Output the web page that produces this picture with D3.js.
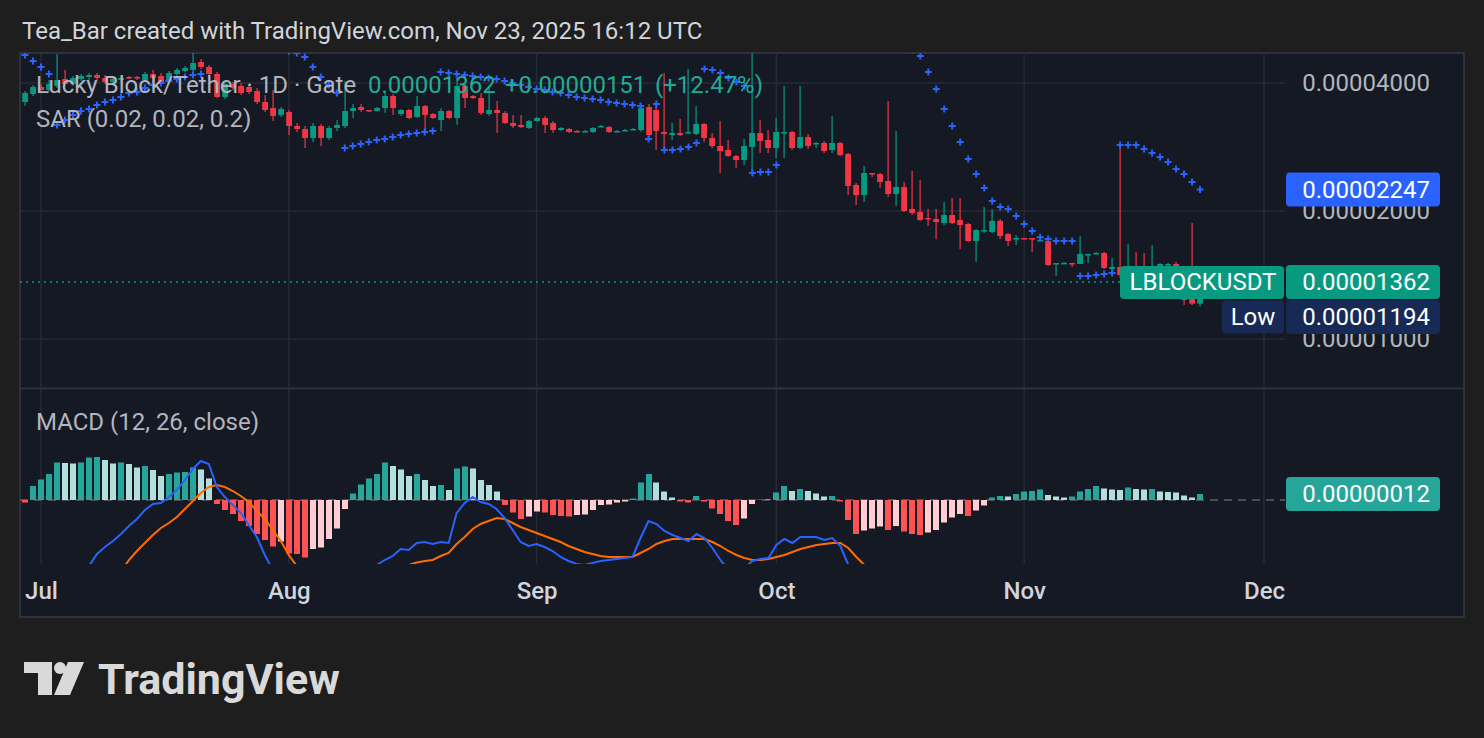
<!DOCTYPE html>
<html>
<head>
<meta charset="utf-8">
<script src="https://cdn.jsdelivr.net/npm/d3@7"></script>
<style>
  body { margin: 0; background: #1e1e1e; }
  svg { display: block; font-family: Roboto, "Noto Sans", sans-serif; }
</style>
</head>
<body>
<script>
// prices are in units of 1e-8 USDT
const firstDay = new Date(Date.UTC(2025, 5, 29))

const opens = [3609,3768,3915,3851,3936,4088,3979,4088,4132,4177,
  4110,4022,4066,4132,4132,4066,4200,4155,4066,4200,
  4269,4292,4482,4362,4200,3708,3979,3936,3915,3830,
  3609,3493,3364,3419,3169,3118,2970,3169,2970,3135,
  3169,3437,3512,3456,3437,3493,3728,3382,3456,3327,
  3531,3382,3274,3437,3309,3936,3728,3688,3382,3456,
  3400,3221,3187,3135,3256,3309,3221,3101,3118,3084,
  3068,3068,3152,3152,3068,3084,3101,3101,3512,3456,
  3068,3018,3051,3051,3035,3204,2970,2844,2783,2694,
  2636,2829,3051,2938,2813,3051,3068,2813,2986,2875,
  2891,2783,2891,2723,2303,2181,2457,2443,2353,2193,
  2278,2022,1989,1926,1915,1874,1957,1905,1864,1700,
  1794,1785,1895,1765,1718,1728,1728,1700,1700,1501,
  1507,1509,1501,1576,1584,1593,1461,1477,1414,1485,
  1437,1407,1485,1493,1501,1340,1249,1211]

const highs = [3830,3957,3979,4066,4680,4292,4155,4200,4223,4223,
  4177,4132,4155,4155,4155,4246,4292,4223,4269,4339,
  4386,5050,4555,4410,4246,4022,4022,4000,3957,3894,
  3748,3851,3512,3456,3221,3169,3221,3204,3169,3274,
  4044,3570,3570,3456,3512,3789,3768,3474,3474,3728,
  3551,3400,3493,3456,4110,4000,3748,3789,3936,3628,
  3437,3364,3364,3274,3327,3346,3256,3152,3135,3101,
  3101,3152,3187,3169,3101,3118,3135,3531,3570,3628,
  4223,3221,3292,4315,3531,3221,3051,3256,2938,2709,
  2954,5330,3274,3101,3309,3936,3084,3936,3035,2906,
  2922,3346,2906,2738,2328,2552,2457,2457,3628,3084,
  2341,2484,2366,2022,2022,2100,2146,2146,1874,1814,
  2044,2022,1915,1775,1756,1728,1728,1718,1709,1509,
  1518,1509,1746,1584,1602,1602,1550,2860,1672,1602,
  1593,1663,1509,1509,1518,1362,1874,1377]

const lows = [3531,3728,3810,3810,3894,3936,3936,4044,4066,4066,
  3979,3979,4022,4088,4066,4022,3915,3979,4044,4177,
  4246,4223,4315,4155,3688,3668,3851,3748,3768,3570,
  3419,3256,3327,3018,3068,2813,2906,2844,2938,3084,
  3135,3309,3419,3419,3437,3400,3364,3346,3292,3309,
  3084,3292,3084,3292,3187,3493,3668,3364,3346,3051,
  3204,3135,3135,3118,3239,3051,3051,3084,3051,3068,
  3068,3051,3152,3051,3068,3084,3101,3068,2986,2783,
  2783,2938,3002,3035,3018,2906,2813,2457,2680,2524,
  2566,2457,2738,2738,2665,2665,2783,2798,2798,2813,
  2738,2738,2694,2181,2066,2100,2404,2266,2158,2055,
  1989,1957,1895,1844,1718,1854,1864,1628,1691,1518,
  1775,1775,1718,1654,1663,1718,1602,1700,1485,1407,
  1501,1477,1501,1509,1584,1461,1453,1392,1392,1407,
  1377,1377,1469,1453,1304,1202,1202,1194]

const closes = [3789,3915,3851,3979,4066,3979,4110,4155,4177,4110,
  4022,4088,4110,4110,4110,4200,4110,4022,4223,4292,
  4339,4458,4362,4200,3708,3979,3894,3789,3810,3609,
  3456,3346,3474,3169,3118,2970,3169,2970,3135,3187,
  3437,3493,3456,3437,3493,3728,3493,3456,3309,3531,
  3364,3309,3437,3309,3936,3688,3688,3400,3456,3400,
  3221,3169,3152,3256,3309,3187,3101,3135,3068,3068,
  3084,3135,3169,3068,3084,3101,3118,3493,3018,3084,
  3035,3051,3018,3068,3204,2970,2844,2768,2694,2636,
  2844,3051,2922,2813,3068,3068,2813,2986,2844,2891,
  2768,2891,2709,2290,2181,2457,2443,2341,2193,2278,
  2000,1979,1905,1915,1884,1957,1874,1854,1700,1804,
  1804,1895,1746,1700,1728,1718,1718,1709,1493,1509,
  1510,1501,1584,1584,1593,1469,1477,1414,1485,1437,
  1407,1469,1501,1501,1340,1235,1211,1362]

// parabolic SAR (0.02, 0.02, 0.2)
const sar = [4655,4506,4362,4200,3186,3274,3364,3438,3475,3551,
  3609,3648,3708,3789,3810,3893,3957,4000,4044,4088,
  4132,4177,4200,5050,5023,4996,4969,4942,4916,4889,
  4863,4837,4811,4760,4706,4605,4362,4132,3957,3789,
  2814,2845,2876,2907,2938,2954,2987,3019,3035,3052,
  3068,3085,4245,4223,4200,4177,4155,4132,4110,4088,
  4044,4000,3957,3914,3872,3851,3810,3789,3748,3708,
  3688,3668,3648,3609,3590,3570,3551,3532,2954,3570,
  2783,2783,2799,2829,2891,4315,4292,4223,4110,4022,
  3936,2457,2470,2470,2566,5330,5301,5273,5244,5216,
  5188,5160,5132,5104,5077,5050,5023,4996,4969,4916,
  4863,4782,4630,4245,3872,3475,3169,2907,2650,2444,
  2266,2111,2044,2022,1947,1864,1794,1736,1718,1700,
  1700,1700,1407,1407,1415,1422,1430,2860,2860,2860,
  2799,2738,2680,2608,2511,2444,2341,2247]

// MACD (12, 26, close), units of 1e-8
const macdLine = [-212,-210,-205,-198,-190,-178,-165,-150,-132,-108,
  -94,-82,-68,-52,-38,-20,-8,-6,6,20,
  40,62,78,72,26,6,-10,-26,-50,-74,
  -110,-140,-155,-175,-190,-205,-210,-210,-205,-195,
  -175,-160,-145,-135,-130,-120,-112,-98,-100,-86,
  -84,-88,-84,-86,-26,-6,6,-4,-8,-18,
  -36,-60,-84,-92,-88,-94,-102,-114,-122,-128,
  -130,-126,-122,-120,-118,-116,-114,-76,-42,-48,
  -62,-70,-76,-82,-68,-76,-96,-120,-140,-150,
  -136,-122,-118,-116,-90,-78,-86,-74,-74,-74,
  -80,-76,-92,-130,-165,-180,-195,-205,-215,-225,
  -235,-245,-255,-260,-265,-265,-262,-258,-258,-252,
  -245,-238,-230,-225,-218,-210,-203,-196,-196,-196,
  -194,-190,-178,-170,-162,-160,-158,-155,-148,-145,
  -142,-138,-138,-137,-138,-140,-143,-136]

const signalLine = [-207,-236,-245,-250,-262,-252,-238,-225,-217,-194,
  -174,-155,-143,-120,-102,-86,-70,-56,-46,-34,
  -18,-2,14,26,30,26,18,8,-4,-22,
  -38,-60,-82,-110,-132,-150,-160,-170,-176,-178,
  -176,-172,-168,-165,-162,-152,-144,-136,-130,-125,
  -122,-120,-112,-106,-88,-74,-58,-48,-42,-36,
  -38,-46,-54,-60,-66,-72,-78,-84,-92,-98,
  -104,-108,-112,-114,-114,-114,-114,-106,-98,-88,
  -82,-78,-78,-78,-78,-78,-84,-92,-102,-110,
  -116,-120,-120,-118,-114,-110,-104,-98,-94,-90,
  -88,-86,-86,-96,-114,-130,-140,-152,-155,-173,
  -172,-177,-185,-195,-205,-220,-227,-230,-226,-231,
  -234,-243,-238,-232,-230,-227,-221,-217,-206,-203,
  -199,-197,-195,-192,-190,-183,-179,-175,-173,-167,
  -163,-160,-155,-153,-153,-149,-148,-148]

const histogram = [-5,28,41,52,75,74,73,75,85,86,
  80,73,75,72,65,68,60,48,52,55,
  56,65,61,43,-8,-20,-28,-42,-52,-68,
  -80,-93,-83,-107,-108,-115,-98,-95,-78,-57,
  -18,13,31,43,52,75,68,61,48,52,
  40,28,30,20,63,67,63,40,30,17,
  -10,-25,-38,-33,-23,-25,-30,-32,-33,-30,
  -29,-20,-10,-9,-5,-3,3,35,52,35,
  17,5,-3,-5,8,-3,-17,-28,-42,-50,
  -37,-8,1,1,15,28,18,22,18,13,
  7,8,-3,-40,-68,-61,-57,-53,-60,-52,
  -63,-68,-70,-65,-60,-45,-35,-28,-32,-21,
  -11,5,8,7,12,17,18,21,10,7,
  5,7,17,22,28,23,21,20,25,22,
  21,22,17,16,15,9,5,12]

const priceTicks = [1000, 2000, 4000]
const monthTicks = [new Date(Date.UTC(2025, 6, 1)), new Date(Date.UTC(2025, 7, 1)),
  new Date(Date.UTC(2025, 8, 1)), new Date(Date.UTC(2025, 9, 1)),
  new Date(Date.UTC(2025, 10, 1)), new Date(Date.UTC(2025, 11, 1))]

const svgWidth = 1484
const svgHeight = 738

const frame = { left: 20, right: 1464, top: 53, bottom: 617 }
const plotRight = 1285
const mainPane = { top: 53, bottom: 388 }
const macdPane = { top: 389, bottom: 564 }

const green = "#089981"
const red = "#f23645"
const fmt = v => (v * 1e-8).toFixed(8)

const days = closes.map((c, i) => d3.utcDay.offset(firstDay, i))
const candles = closes.map((c, i) => ({ date: days[i], open: opens[i], high: highs[i], low: lows[i], close: c }))

const x = d3.scaleUtc()
  .domain([monthTicks[0], monthTicks[5]])
  .range([41, 1264])

const y = d3.scaleLog()
  .domain([1000, 4000])
  .range([339, 83])

const yMacd = d3.scaleLinear()
  .domain([-125, 220])
  .range([562.5, 390])

const svg = d3.select("body").append("svg")
  .attr("width", svgWidth)
  .attr("height", svgHeight)

svg.append("rect")
  .attr("width", svgWidth)
  .attr("height", svgHeight)
  .attr("fill", "#1e1e1e")

svg.append("text")
  .attr("x", 22)
  .attr("y", 31)
  .attr("dy", "0.35em")
  .attr("fill", "#d1d4dc")
  .style("font-size", "24px")
  .text("Tea_Bar created with TradingView.com, Nov 23, 2025 16:12 UTC")

svg.append("rect")
  .attr("x", frame.left)
  .attr("y", frame.top)
  .attr("width", frame.right - frame.left)
  .attr("height", frame.bottom - frame.top)
  .attr("fill", "#151924")
  .attr("stroke", "#363a45")
  .attr("stroke-width", 1.5)

const defs = svg.append("defs")
defs.append("clipPath").attr("id", "clipMain")
  .append("rect")
  .attr("x", frame.left).attr("y", mainPane.top)
  .attr("width", plotRight - frame.left).attr("height", mainPane.bottom - mainPane.top)
defs.append("clipPath").attr("id", "clipMacd")
  .append("rect")
  .attr("x", frame.left).attr("y", macdPane.top)
  .attr("width", plotRight - frame.left).attr("height", macdPane.bottom - macdPane.top)

// grid
const grid = svg.append("g").attr("stroke", "#262a35").attr("stroke-width", 1.5)
grid.selectAll(".vg").data(monthTicks).join("line")
  .attr("x1", d => x(d)).attr("x2", d => x(d))
  .attr("y1", mainPane.top).attr("y2", macdPane.bottom)
grid.selectAll(".hg").data(priceTicks).join("line")
  .attr("x1", frame.left).attr("x2", plotRight)
  .attr("y1", d => y(d)).attr("y2", d => y(d))

svg.append("line")
  .attr("x1", frame.left).attr("x2", frame.right)
  .attr("y1", 388.5).attr("y2", 388.5)
  .attr("stroke", "#2e323d").attr("stroke-width", 2)

// price axis
const yAxis = svg.append("g")
  .attr("transform", `translate(${plotRight}, 0)`)
  .call(d3.axisRight(y).tickValues(priceTicks).tickFormat(fmt).tickSize(0))
yAxis.select(".domain").remove()
yAxis.selectAll("text")
  .attr("x", 145)
  .attr("text-anchor", "end")
  .attr("fill", "#b2b5be")
  .style("font-size", "24px")
  .style("font-family", "Roboto, sans-serif")

// time axis
const xAxis = svg.append("g")
  .attr("transform", `translate(0, 579)`)
  .call(d3.axisBottom(x).tickValues(monthTicks).tickFormat(d3.utcFormat("%b")).tickSize(0))
xAxis.select(".domain").remove()
xAxis.selectAll("text")
  .attr("fill", "#d1d4dc")
  .style("font-size", "24px")
  .style("font-weight", 500)
  .style("font-family", "Roboto, sans-serif")

// main pane
const mainG = svg.append("g").attr("clip-path", "url(#clipMain)")

mainG.append("line")
  .attr("x1", frame.left).attr("x2", plotRight)
  .attr("y1", y(closes[closes.length - 1])).attr("y2", y(closes[closes.length - 1]))
  .attr("stroke", green).attr("stroke-width", 1.5).attr("stroke-dasharray", "2 4")

const candleG = mainG.selectAll(".candle").data(candles).join("g")
  .attr("fill", d => d.close >= d.open ? green : red)
candleG.append("rect")
  .attr("x", d => Math.round(x(d.date)) - 0.5)
  .attr("width", 1.2)
  .attr("y", d => y(d.high))
  .attr("height", d => Math.max(1, y(d.low) - y(d.high)))
candleG.append("rect")
  .attr("x", d => Math.round(x(d.date)) - 2.8)
  .attr("width", 5.8)
  .attr("y", d => y(Math.max(d.open, d.close)))
  .attr("height", d => Math.max(1.5, Math.abs(y(d.open) - y(d.close))))

mainG.selectAll(".sar").data(sar).join("path")
  .attr("transform", (d, i) => `translate(${x(days[i])}, ${y(d)})`)
  .attr("d", "M-3.5,0H3.5M0,-3.5V3.5")
  .attr("stroke", "#2962ff")
  .attr("stroke-width", 2)

// legends
const legend = svg.append("text")
  .attr("y", 85).attr("dy", "0.35em")
  .style("font-size", "24px")
legend.append("tspan").attr("x", 36).attr("fill", "#b2b5be").text("Lucky Block/Tether · 1D · Gate")
const lastClose = closes[closes.length - 1]
const prevClose = closes[closes.length - 2]
legend.append("tspan").attr("x", 368).attr("fill", "#22ab94").text(fmt(lastClose))
legend.append("tspan").attr("x", 505).attr("fill", "#22ab94").text("+" + fmt(lastClose - prevClose))
legend.append("tspan").attr("x", 655).attr("fill", "#22ab94")
  .text(`(+${((lastClose - prevClose) / prevClose * 100).toFixed(2)}%)`)

svg.append("text")
  .attr("x", 36).attr("y", 119).attr("dy", "0.35em")
  .attr("fill", "#b2b5be").style("font-size", "24px")
  .text("SAR (0.02, 0.02, 0.2)")

// MACD pane
const macdG = svg.append("g").attr("clip-path", "url(#clipMacd)")

macdG.append("line")
  .attr("x1", frame.left).attr("x2", plotRight)
  .attr("y1", yMacd(0)).attr("y2", yMacd(0))
  .attr("stroke", "#5d606b").attr("stroke-width", 1.5).attr("stroke-dasharray", "8 6")

macdG.selectAll(".hist").data(histogram).join("rect")
  .attr("x", (d, i) => Math.round(x(days[i])) - 3)
  .attr("width", 6)
  .attr("y", d => Math.min(yMacd(0), yMacd(d)))
  .attr("height", d => Math.abs(yMacd(d) - yMacd(0)))
  .attr("fill", (d, i) => {
    const prev = i > 0 ? histogram[i - 1] : d
    if (d >= 0) return prev < d ? "#26a69a" : "#b2dfdb"
    return prev < d ? "#ffcdd2" : "#ff5252"
  })

const macdPath = d3.line()
  .x((d, i) => x(days[i]))
  .y(d => yMacd(d))

macdG.append("path")
  .attr("d", macdPath(signalLine))
  .attr("fill", "none")
  .attr("stroke", "#ff6d00")
  .attr("stroke-width", 2)

macdG.append("path")
  .attr("d", macdPath(macdLine))
  .attr("fill", "none")
  .attr("stroke", "#2962ff")
  .attr("stroke-width", 2)

svg.append("text")
  .attr("x", 36).attr("y", 422).attr("dy", "0.35em")
  .attr("fill", "#b2b5be").style("font-size", "24px")
  .text("MACD (12, 26, close)")

// price scale labels
function scaleLabel(yc, fill, text) {
  svg.append("rect")
    .attr("x", 1286).attr("y", yc - 17)
    .attr("width", 154).attr("height", 34)
    .attr("rx", 4)
    .attr("fill", fill)
  svg.append("text")
    .attr("x", 1430).attr("y", yc).attr("dy", "0.35em")
    .attr("text-anchor", "end")
    .attr("fill", "#ffffff")
    .style("font-size", "24px")
    .text(text)
}

const lowest = d3.min(lows)
scaleLabel(y(sar[sar.length - 1]), "#2962ff", fmt(sar[sar.length - 1]))

svg.append("rect")
  .attr("x", 1120).attr("y", y(lastClose) - 16)
  .attr("width", 164).attr("height", 33)
  .attr("rx", 4).attr("fill", green)
svg.append("text")
  .attr("x", 1203).attr("y", y(lastClose)).attr("dy", "0.35em")
  .attr("text-anchor", "middle").attr("fill", "#ffffff")
  .style("font-size", "24px")
  .text("LBLOCKUSDT")
scaleLabel(y(lastClose), green, fmt(lastClose))

const lowY = y(lastClose) + 35
svg.append("rect")
  .attr("x", 1222).attr("y", lowY - 16.5)
  .attr("width", 62).attr("height", 33)
  .attr("rx", 4).attr("fill", "#172a55")
svg.append("text")
  .attr("x", 1253).attr("y", lowY).attr("dy", "0.35em")
  .attr("text-anchor", "middle").attr("fill", "#ffffff")
  .style("font-size", "24px")
  .text("Low")
scaleLabel(lowY, "#172a55", fmt(lowest))

scaleLabel(yMacd(histogram[histogram.length - 1]), "#26a69a", fmt(histogram[histogram.length - 1]))

// TradingView logo
const logo = svg.append("g").attr("fill", "#d9d9d9")
logo.append("path").attr("d", "M24,662H52V695H38V673H24Z")
logo.append("circle").attr("cx", 60).attr("cy", 668).attr("r", 6)
logo.append("path").attr("d", "M68,662H84L70,695H54Z")
logo.append("text")
  .attr("x", 98).attr("y", 694)
  .style("font-size", "43px")
  .style("font-weight", 700)
  .text("TradingView")
</script>
</body>
</html>
